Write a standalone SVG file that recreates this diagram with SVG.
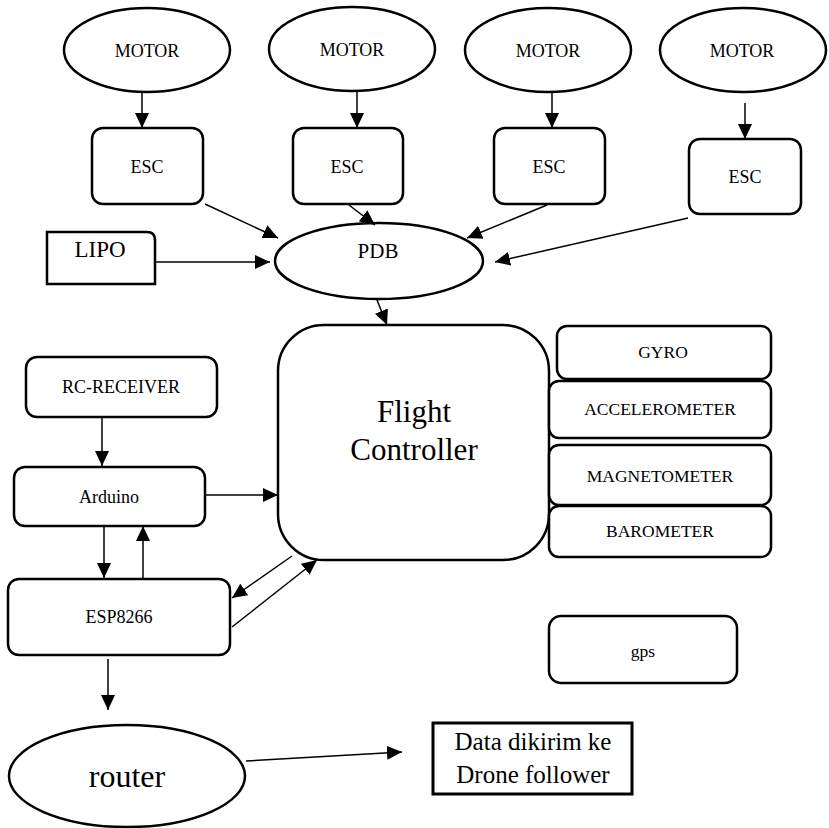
<svg xmlns="http://www.w3.org/2000/svg" width="829" height="828" viewBox="0 0 829 828" font-family="'Liberation Serif', 'Times New Roman', serif">
  <style>
    .node { fill: #fff; stroke: #000; stroke-width: 2.5; }
    text { font-family: "Liberation Serif", "Times New Roman", serif; fill: #000; text-anchor: middle; }
    .s17 { font-size: 17.5px; }
    .s18 { font-size: 18px; }
    .s21 { font-size: 21px; }
    .s23 { font-size: 23px; }
    .s25 { font-size: 25px; }
    .s31 { font-size: 31px; }
    .s32 { font-size: 32px; }
    .edge { fill: none; stroke: #000; stroke-width: 1.5; marker-end: url(#arrow); }
  </style>
  <defs>
    <marker id="arrow" markerUnits="userSpaceOnUse" markerWidth="16" markerHeight="14" refX="15" refY="7" orient="auto">
      <path d="M0,0 L15,7 L0,14 z" fill="#000"/>
    </marker>
  </defs>
  <rect width="829" height="828" fill="#fff"/>

  <!-- motors -->
  <g id="motor1"><ellipse class="node" cx="147" cy="50" rx="83" ry="42"/><text class="s18" x="147" y="57">MOTOR</text></g>
  <g id="motor2"><ellipse class="node" cx="352" cy="49" rx="83" ry="42"/><text class="s18" x="352" y="56">MOTOR</text></g>
  <g id="motor3"><ellipse class="node" cx="548" cy="50" rx="83" ry="42"/><text class="s18" x="548" y="57">MOTOR</text></g>
  <g id="motor4"><ellipse class="node" cx="743" cy="50" rx="83" ry="42"/><text class="s18" x="742" y="57">MOTOR</text></g>

  <!-- ESCs -->
  <g id="esc1"><rect class="node" x="92" y="128" width="111" height="76" rx="11"/><text class="s18" x="147" y="173">ESC</text></g>
  <g id="esc2"><rect class="node" x="293" y="128" width="110" height="76" rx="11"/><text class="s18" x="347" y="173">ESC</text></g>
  <g id="esc3"><rect class="node" x="494" y="128" width="111" height="76" rx="11"/><text class="s18" x="549" y="173">ESC</text></g>
  <g id="esc4"><rect class="node" x="689" y="139" width="112" height="75" rx="11"/><text class="s18" x="745" y="183">ESC</text></g>

  <!-- power -->
  <g id="lipo"><path class="node" d="M47,232 H147 Q155,232 155,240 V284 H47 Z"/><text class="s23" x="100" y="257">LIPO</text></g>
  <g id="pdb"><ellipse class="node" cx="379" cy="261" rx="104" ry="38"/><text class="s21" x="378" y="258">PDB</text></g>

  <!-- flight controller and sensors -->
  <g id="flight-controller"><rect class="node" x="278" y="325" width="271" height="235" rx="46"/><text class="s31" x="414" y="422">Flight</text><text class="s31" x="414" y="460">Controller</text></g>
  <g id="gyro"><rect class="node" x="557" y="326" width="214" height="53" rx="10"/><text class="s17" x="663" y="358">GYRO</text></g>
  <g id="accelerometer"><rect class="node" x="549" y="381" width="222" height="57" rx="10"/><text class="s17" x="660" y="415">ACCELEROMETER</text></g>
  <g id="magnetometer"><rect class="node" x="549" y="445" width="222" height="60" rx="10"/><text class="s17" x="660" y="482">MAGNETOMETER</text></g>
  <g id="barometer"><rect class="node" x="549" y="506" width="222" height="51" rx="10"/><text class="s17" x="660" y="537">BAROMETER</text></g>
  <g id="gps"><rect class="node" x="549" y="616" width="188" height="67" rx="12"/><text class="s17" x="643" y="657">gps</text></g>

  <!-- left chain -->
  <g id="rc-receiver"><rect class="node" x="26" y="357" width="191" height="60" rx="11"/><text class="s18" x="121" y="393">RC-RECEIVER</text></g>
  <g id="arduino"><rect class="node" x="14" y="467" width="191" height="59" rx="11"/><text class="s18" x="109" y="503">Arduino</text></g>
  <g id="esp8266"><rect class="node" x="8" y="579" width="222" height="76" rx="11"/><text class="s18" x="119" y="623">ESP8266</text></g>
  <g id="router"><ellipse class="node" cx="127" cy="776" rx="118" ry="51"/><text class="s32" x="127" y="787">router</text></g>
  <g id="drone-follower"><rect x="433" y="723" width="199" height="71" fill="#fff" stroke="#000" stroke-width="3"/><text class="s25" x="533" y="750">Data dikirim ke</text><text class="s25" x="533" y="783">Drone follower</text></g>

  <!-- connectors -->
  <g id="connectors">
    <line class="edge" x1="142" y1="92" x2="142" y2="128"/>
    <line class="edge" x1="357" y1="91" x2="357" y2="128"/>
    <line class="edge" x1="552" y1="92" x2="552" y2="128"/>
    <line class="edge" x1="745" y1="103" x2="745" y2="139"/>
    <line class="edge" x1="205" y1="204" x2="278" y2="238"/>
    <line class="edge" x1="349" y1="205" x2="375" y2="225"/>
    <line class="edge" x1="547" y1="205" x2="467" y2="238"/>
    <line class="edge" x1="688" y1="218" x2="495" y2="262"/>
    <line class="edge" x1="155" y1="262" x2="270" y2="262"/>
    <line class="edge" x1="377" y1="300" x2="387" y2="325"/>
    <line class="edge" x1="102" y1="417" x2="102" y2="466"/>
    <line class="edge" x1="205" y1="495" x2="278" y2="495"/>
    <line class="edge" x1="104" y1="526" x2="104" y2="578"/>
    <line class="edge" x1="143" y1="579" x2="143" y2="526"/>
    <line class="edge" x1="292" y1="556" x2="232" y2="598"/>
    <line class="edge" x1="232" y1="627" x2="317" y2="560"/>
    <line class="edge" x1="108" y1="659" x2="108" y2="710"/>
    <line class="edge" x1="246" y1="761" x2="402" y2="752"/>
  </g>
</svg>
